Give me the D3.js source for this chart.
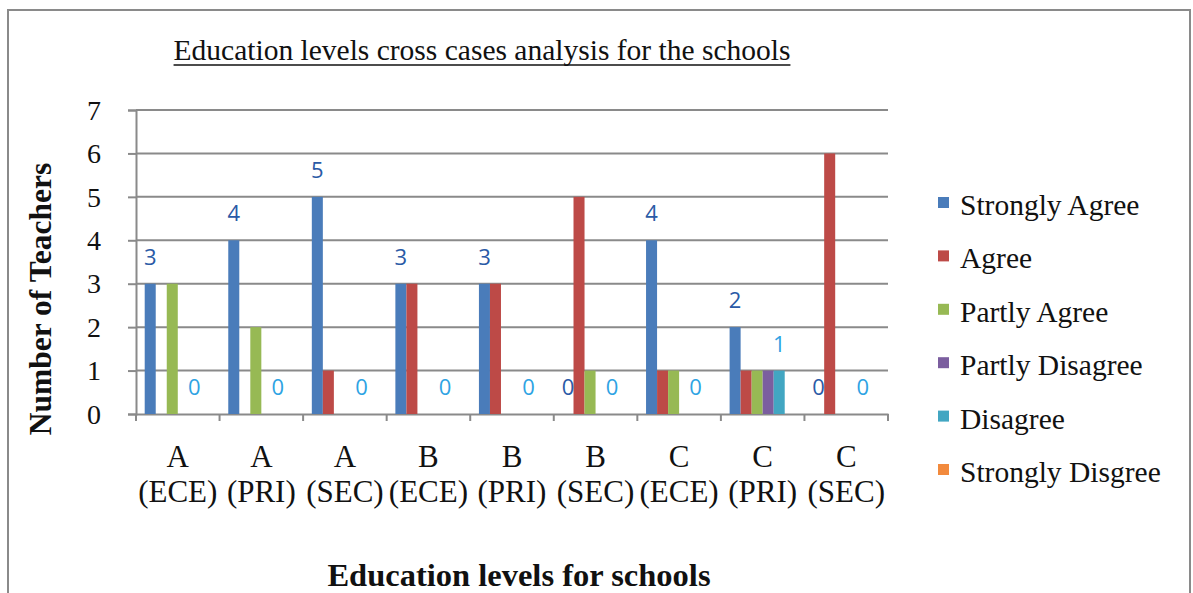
<!DOCTYPE html>
<html>
<head>
<meta charset="utf-8">
<script src="https://cdn.jsdelivr.net/npm/d3@7"></script>
<style>
  html, body { margin: 0; padding: 0; background: #fff; }
  svg { display: block; }
</style>
</head>
<body>
<svg id="chart" width="1193" height="593"></svg>
<script>
const categories = ["A (ECE)", "A (PRI)", "A (SEC)", "B (ECE)", "B (PRI)", "B (SEC)", "C (ECE)", "C (PRI)", "C (SEC)"];
const seriesNames = ["Strongly Agree", "Agree", "Partly Agree", "Partly Disagree", "Disagree", "Strongly Disgree"];
const stronglyAgree   = [3, 4, 5, 3, 3, 0, 4, 2, 0];
const agree           = [0, 0, 1, 3, 3, 5, 1, 1, 6];
const partlyAgree     = [3, 2, 0, 0, 0, 1, 1, 1, 0];
const partlyDisagree  = [0, 0, 0, 0, 0, 0, 0, 1, 0];
const disagree        = [0, 0, 0, 0, 0, 0, 0, 1, 0];
const stronglyDisagree= [0, 0, 0, 0, 0, 0, 0, 0, 0];
const yTicks = [0, 1, 2, 3, 4, 5, 6, 7];
const colors = ["#4a7cba", "#bd4a47", "#97b954", "#7b5e9f", "#42a6c2", "#f28a3d"];
const labelledSeries = {"Strongly Agree": "#2a5aa6", "Disagree": "#2ea3e3"};

const seriesValues = [stronglyAgree, agree, partlyAgree, partlyDisagree, disagree, stronglyDisagree];

(function () {
const svg = d3.select("#chart");
const serif = "'Liberation Serif', 'Times New Roman', serif";

// frame
svg.append("rect").attr("x", 8).attr("y", 10).attr("width", 1182).attr("height", 620)
  .attr("fill", "none").attr("stroke", "#8a8a8a").attr("stroke-width", 2);

const pLeft = 136, pRight = 888, pTop = 110, pBottom = 414;
const y = d3.scaleLinear().domain([0, 7]).range([pBottom, pTop]);
const x0 = d3.scaleBand().domain(categories).range([pLeft, pRight]).padding(0);
const x1 = d3.scaleBand().domain(seriesNames).range([0, x0.bandwidth()]).paddingInner(0).paddingOuter(0.79);
const color = d3.scaleOrdinal().domain(seriesNames).range(colors);

// gridlines
svg.append("g").selectAll("line").data(yTicks.filter(d => d > 0)).join("line")
  .attr("x1", pLeft).attr("x2", pRight)
  .attr("y1", d => y(d)).attr("y2", d => y(d))
  .attr("stroke", "#8a8a8a").attr("stroke-width", 2);

// y axis
const yAxis = svg.append("g").attr("transform", `translate(${pLeft},0)`)
  .call(d3.axisLeft(y).tickValues(yTicks).tickSize(8).tickPadding(27).tickFormat(d3.format("d")));
yAxis.select(".domain").attr("stroke", "#8a8a8a").attr("stroke-width", 2);
yAxis.selectAll(".tick line").attr("stroke", "#8a8a8a").attr("stroke-width", 2);
yAxis.selectAll(".tick text").attr("font-family", serif).attr("font-size", 28).attr("fill", "#111").attr("dy", "0.33em");

// x axis
const xAxis = svg.append("g").attr("transform", `translate(0,${pBottom})`)
  .call(d3.axisBottom(x0).tickValues([]).tickSizeOuter(0));
xAxis.select(".domain").attr("stroke", "#8a8a8a").attr("stroke-width", 2);
const boundaries = categories.map(c => x0(c)).concat([pRight]);
xAxis.append("g").selectAll("line").data(boundaries).join("line")
  .attr("x1", d => d).attr("x2", d => d).attr("y1", 0).attr("y2", 7)
  .attr("stroke", "#8a8a8a").attr("stroke-width", 2);

// category labels (two lines)
const catG = svg.append("g").attr("font-family", serif).attr("font-size", 31).attr("fill", "#111").attr("text-anchor", "middle");
categories.forEach(c => {
  const parts = c.split(" ");
  const cx = x0(c) + x0.bandwidth() / 2;
  catG.append("text").attr("x", cx).attr("y", 467).text(parts[0]);
  catG.append("text").attr("x", cx).attr("y", 502).text(parts[1]);
});

// bars
const groups = svg.append("g").selectAll("g").data(categories).join("g")
  .attr("transform", c => `translate(${x0(c)},0)`);
groups.selectAll("rect")
  .data((c, i) => seriesNames.map((s, k) => ({s, v: seriesValues[k][i]})))
  .join("rect")
  .attr("x", d => x1(d.s)).attr("width", x1.bandwidth())
  .attr("y", d => y(d.v)).attr("height", d => y(0) - y(d.v))
  .attr("fill", d => color(d.s));

// data labels
groups.selectAll("text.lbl")
  .data((c, i) => seriesNames.map((s, k) => ({s, v: seriesValues[k][i]})).filter(d => labelledSeries[d.s]))
  .join("text").attr("class", "lbl")
  .attr("x", d => x1(d.s) + x1.bandwidth() / 2)
  .attr("y", d => y(d.v) - 19)
  .attr("text-anchor", "middle")
  .attr("font-family", "'Open Sans', sans-serif").attr("font-size", 22)
  .attr("fill", d => labelledSeries[d.s])
  .text(d => d.v);

// title
const title = svg.append("text").attr("x", 482).attr("y", 60).attr("text-anchor", "middle")
  .attr("font-family", serif).attr("font-size", 29.5).attr("fill", "#111")
  .text("Education levels cross cases analysis for the schools");
const tb = title.node().getBBox();
svg.append("line").attr("x1", tb.x).attr("x2", tb.x + tb.width).attr("y1", 65).attr("y2", 65)
  .attr("stroke", "#111").attr("stroke-width", 1.5);

// axis titles
svg.append("text").attr("transform", "translate(51,299) rotate(-90)").attr("text-anchor", "middle")
  .attr("font-family", serif).attr("font-size", 31.5).attr("font-weight", "bold").attr("fill", "#111")
  .text("Number of Teachers");
svg.append("text").attr("x", 519).attr("y", 586).attr("text-anchor", "middle")
  .attr("font-family", serif).attr("font-size", 32.5).attr("font-weight", "bold").attr("fill", "#111")
  .text("Education levels for schools");

// legend
const legend = svg.append("g").selectAll("g").data(seriesNames).join("g")
  .attr("transform", (d, i) => `translate(938,${215 + i * 53.4})`);
legend.append("rect").attr("x", 0).attr("y", -18).attr("width", 11).attr("height", 11).attr("fill", d => color(d));
legend.append("text").attr("x", 22).attr("y", 0).attr("font-family", serif).attr("font-size", 29.5).attr("fill", "#111").text(d => d);
})();
</script>
</body>
</html>
